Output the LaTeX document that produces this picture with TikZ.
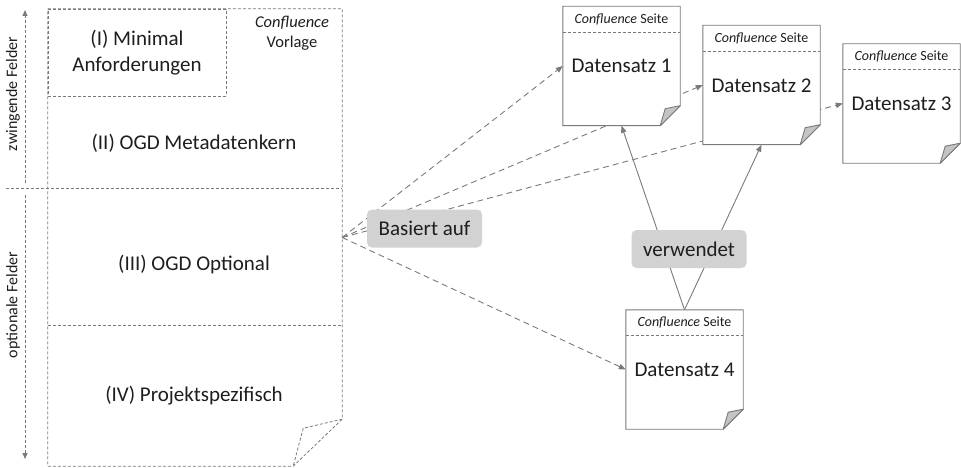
\documentclass[tikz,border=0pt]{standalone}
\usepackage{fontspec}
\setmainfont{Carlito}
\usepackage{xcolor}
\usetikzlibrary{arrows.meta,backgrounds}

\definecolor{liniengrau}{HTML}{7A7A7A}
\definecolor{feldgrau}{HTML}{D2D2D2}
\definecolor{faltgrau}{HTML}{C4C4C4}
\definecolor{schrift}{HTML}{1E1E1E}

\tikzset{
  linie/.style={draw=liniengrau, line width=0.9pt},
  vorlagelinie/.style={draw=liniengrau, line width=0.8pt, dash pattern=on 3pt off 2pt},
  verbindung/.style={draw=liniengrau, line width=0.9pt, dash pattern=on 6pt off 4pt, -{Triangle[length=7pt,width=5.5pt]}},
  verwendung/.style={draw=liniengrau, line width=0.9pt, -{Triangle[length=7pt,width=5.5pt]}},
  beschriftung/.style={fill=feldgrau, rounded corners=5pt, minimum width=115pt, minimum height=38pt, text=schrift, font=\fontsize{21}{21}\selectfont},
  seite/.style={minimum width=117pt, minimum height=119pt, inner sep=0pt},
  gross/.style={text=schrift, align=center, font=\fontsize{21}{26}\selectfont},
  klein/.style={text=schrift, font=\fontsize{14}{14}\selectfont},
}

\begin{document}
\begin{tikzpicture}[x=1pt,y=-1pt]
\useasboundingbox (0,0) rectangle (961,468);

% Vorlage
\node[minimum width=294pt, minimum height=457pt, inner sep=0pt] (vorlage) at (195,237.5) {};
\draw[vorlagelinie] (vorlage.north west) -- (vorlage.north east) -- ([yshift=47pt]vorlage.south east) -- ([xshift=-49pt]vorlage.south east) -- (vorlage.south west) -- cycle;
\draw[vorlagelinie] ([yshift=47pt]vorlage.south east) -- ([xshift=-39pt,yshift=38pt]vorlage.south east) -- ([xshift=-49pt]vorlage.south east);
\node[gross, draw=liniengrau, line width=0.8pt, dash pattern=on 3pt off 2pt, minimum width=178pt, minimum height=87pt, inner sep=0pt] (minimal) at (137,52.5) {(I) Minimal\\Anforderungen};
\node[klein, align=center, font=\fontsize{16.5}{20}\selectfont] (vorlagetitel) at (292,33) {\textit{Confluence}\\Vorlage};
\node[gross] (kern) at (194,143) {(II) OGD Metadatenkern};
\draw[vorlagelinie] (6,188) -- (342,188);
\node[gross] (optional) at (194,265) {(III) OGD Optional};
\draw[vorlagelinie] (48,325) -- (342,325);
\node[gross] (projekt) at (194,396) {(IV) Projektspezifisch};

% Pflicht / optional
\coordinate (zw-a) at (25,183);
\coordinate (zw-b) at (25,10);
\coordinate (op-a) at (25,195);
\coordinate (op-b) at (25,459);
\draw[vorlagelinie, -{Triangle[length=6pt,width=5pt]}] (zw-a) -- (zw-b);
\draw[vorlagelinie, -{Triangle[length=6pt,width=5pt]}] (op-a) -- (op-b);
\node[klein, rotate=90, font=\fontsize{16}{16}\selectfont] (zwingend) at (13,94) {zwingende Felder};
\node[klein, rotate=90, font=\fontsize{16}{16}\selectfont] (optfelder) at (13,305) {optionale Felder};

% Seiten
\foreach \n/\x/\y in {1/621.5/66, 2/761.5/85, 3/901.5/103.5, 4/684.5/369.5}{
  \node[seite] (d\n) at (\x,\y) {};
  \filldraw[linie, fill=white] (d\n.north west) -- (d\n.north east) -- ([yshift=20pt]d\n.south east) -- ([xshift=-20pt]d\n.south east) -- (d\n.south west) -- cycle;
  \filldraw[linie, fill=faltgrau, line join=round] ([yshift=20pt]d\n.south east) -- ([xshift=-15pt,yshift=17pt]d\n.south east) -- ([xshift=-20pt]d\n.south east) -- cycle;
  \draw[linie, dash pattern=on 3pt off 2pt] ([yshift=-26pt]d\n.north west) -- ([yshift=-26pt]d\n.north east);
  \node[klein] (d\n-kopf) at ([yshift=-13pt]d\n.north) {\textit{Confluence} Seite};
  \node[gross] (d\n-titel) at ([yshift=-60pt]d\n.north) {Datensatz \n};
}

% Verbindungen
\begin{scope}[on background layer]
\foreach \n in {1,...,4}
  \draw[verbindung] (vorlage.east) -- (d\n.west);
\draw[verwendung] (d4.north) -- (d1.south);
\draw[verwendung] (d4.north) -- (d2.south);
\end{scope}

\node[beschriftung] (basiert) at (424.5,228.5) {Basiert auf};
\node[beschriftung] (verwendet) at (689,249) {verwendet};
\end{tikzpicture}
\end{document}
